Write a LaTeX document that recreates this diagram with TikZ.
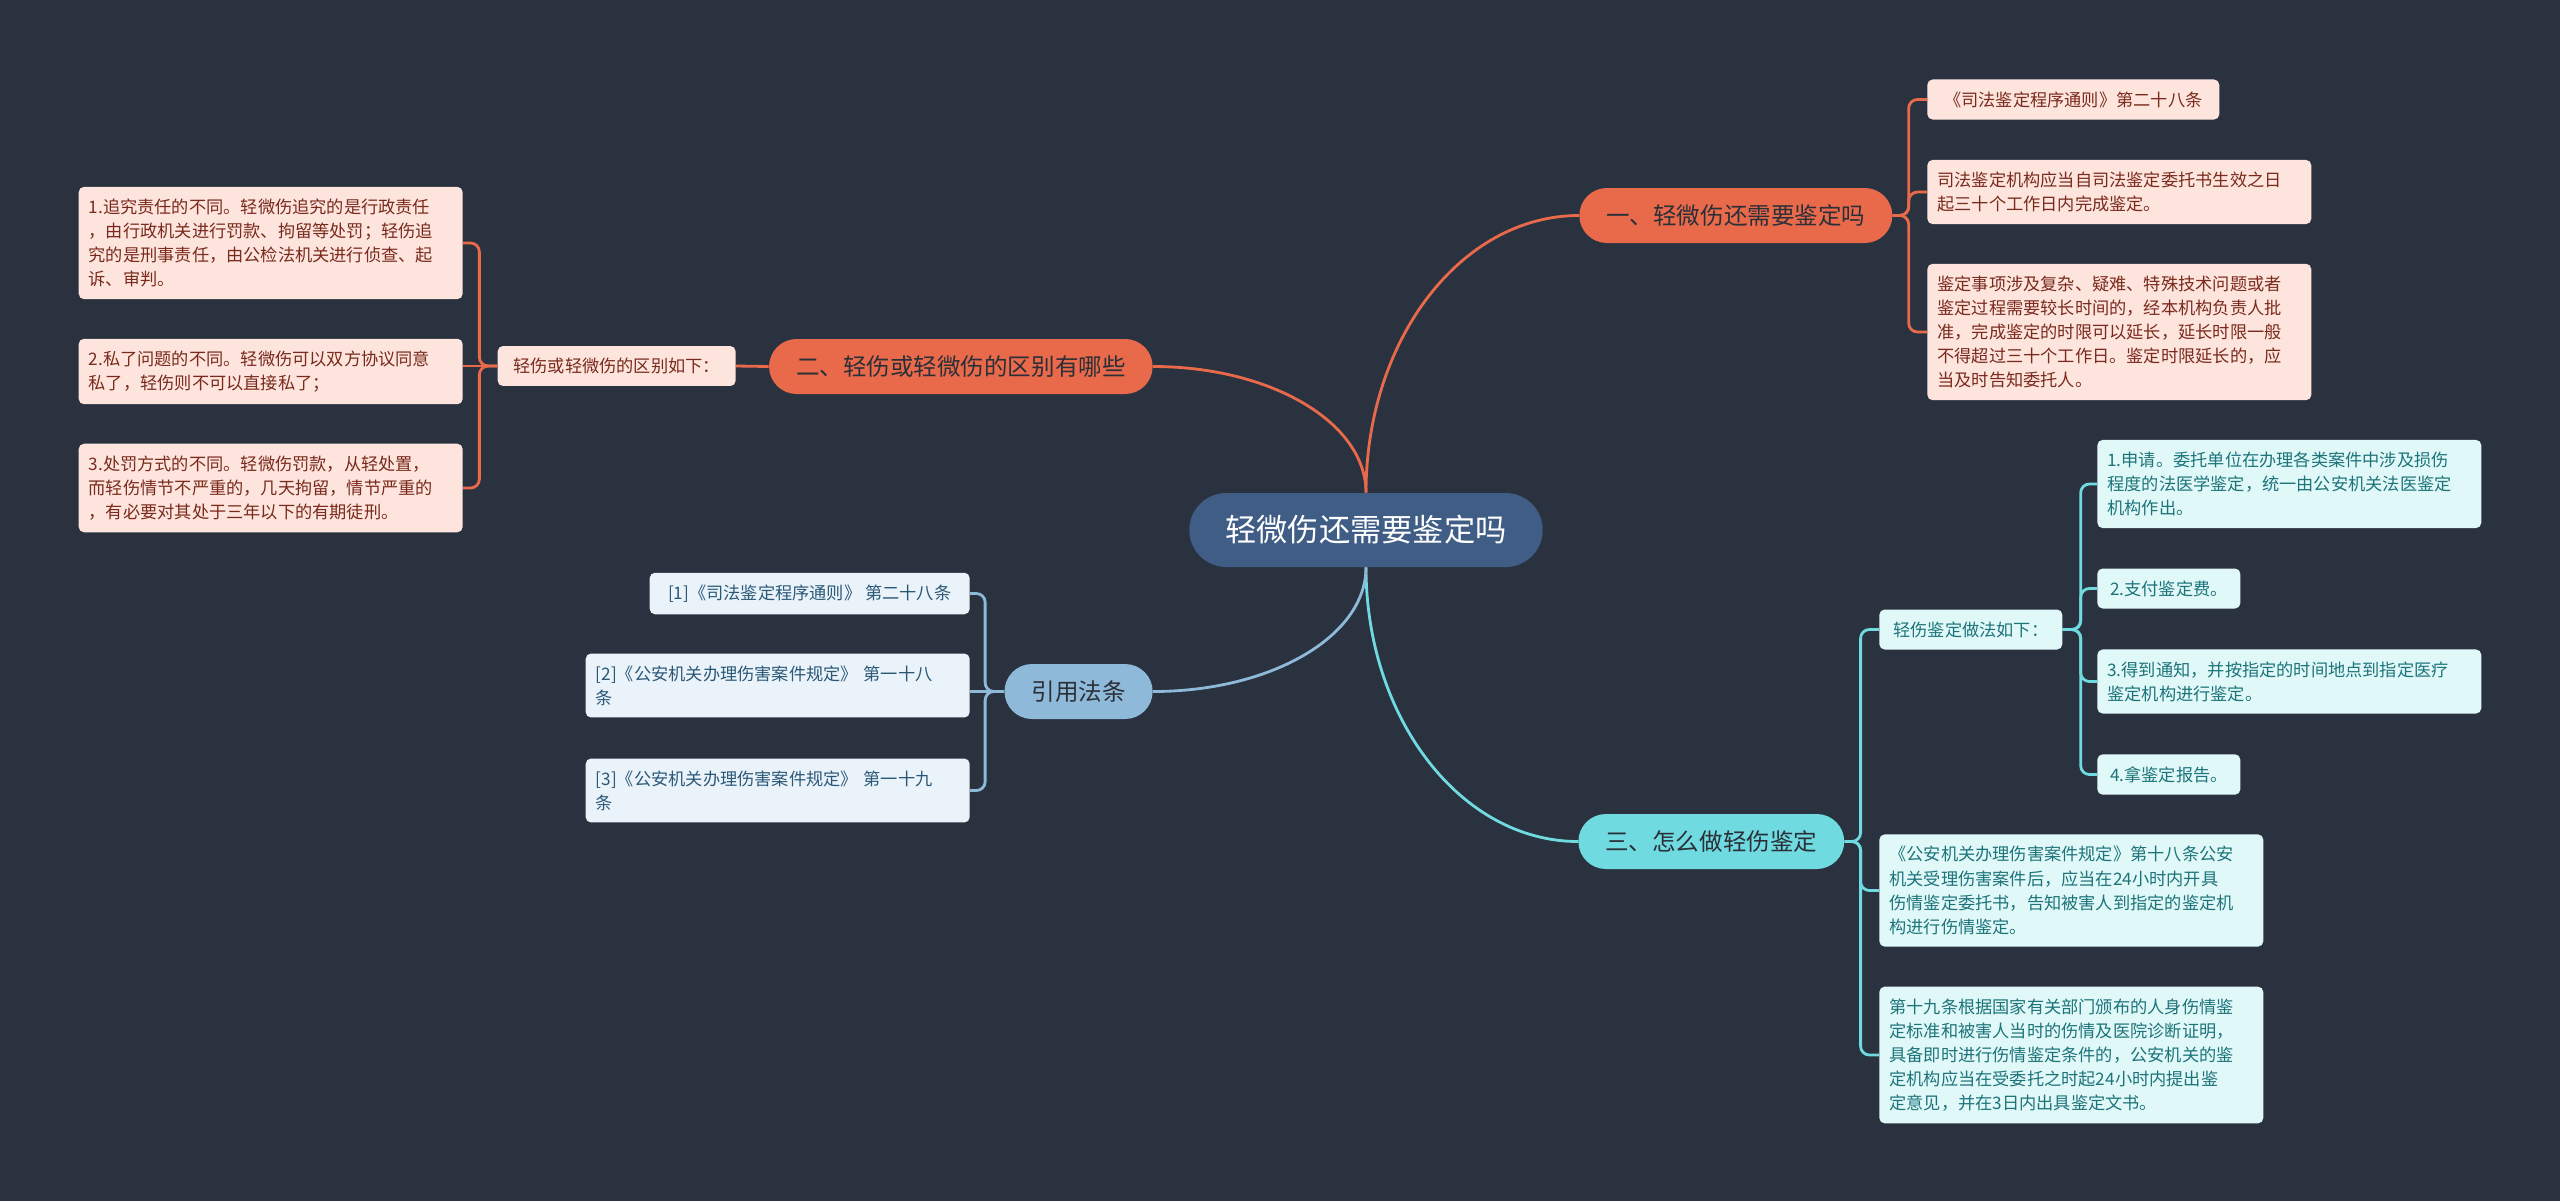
\documentclass[tikz,border=0pt]{standalone}
\usepackage{fontspec}
\setmainfont{Noto Sans CJK SC}
\definecolor{night}{HTML}{2A3240}
\definecolor{rootblue}{HTML}{3F5D85}
\definecolor{coral}{HTML}{E96A4B}
\definecolor{coralpale}{HTML}{FDE5DE}
\definecolor{coralink}{HTML}{7A2A1C}
\definecolor{aqua}{HTML}{6FDAE0}
\definecolor{aquapale}{HTML}{E1F8F9}
\definecolor{aquaink}{HTML}{1C7479}
\definecolor{steel}{HTML}{8FB9D8}
\definecolor{steelpale}{HTML}{EAF3F9}
\definecolor{steelink}{HTML}{2C5878}
\definecolor{darkink}{HTML}{2B2F38}

\begin{document}
\begin{tikzpicture}[x=0.02cm,y=-0.02cm,
    font=\fontsize{9.8}{13.7}\selectfont,
    topic/.style={rounded corners=0.55cm,minimum height=1.1cm,inner xsep=0.54cm,inner ysep=0pt,
      font=\fontsize{13.4}{16}\selectfont,text=darkink},
    leaf/.style={rounded corners=3pt,inner xsep=0.2cm,inner ysep=0.24cm,align=left},
    wide/.style={leaf,text width=7.28cm},
    redleaf/.style={fill=coralpale,text=coralink},
    aqualeaf/.style={fill=aquapale,text=aquaink},
    steelleaf/.style={fill=steelpale,text=steelink},
    link/.style={line width=1.6pt},
    elbow/.style={line width=1.6pt,rounded corners=5pt}
  ]
  \fill[night] (0,0) rectangle (2560,1201);

  \node[fill=rootblue,text=white,rounded corners=0.74cm,minimum height=1.48cm,inner xsep=0.72cm,
    inner ysep=0pt,font=\fontsize{17.8}{20}\selectfont] (root) at (1366,530) {轻微伤还需要鉴定吗};

  \node[topic,fill=coral,anchor=west] (dan) at (1579,215.5) {一、轻微伤还需要鉴定吗};
  \node[topic,fill=coral,anchor=east] (qubie) at (1153,366.5) {二、轻伤或轻微伤的区别有哪些};
  \node[topic,fill=aqua,anchor=west] (zenme) at (1578,841.5) {三、怎么做轻伤鉴定};
  \node[topic,fill=steel,anchor=east] (fatiao) at (1153,691.5) {引用法条};

  % 一
  \node[leaf,redleaf,anchor=west,minimum width=5.84cm] (tongze) at (1927,99.5) {《司法鉴定程序通则》第二十八条};
  \node[wide,redleaf,anchor=west] (sanshi) at (1927,192) {司法鉴定机构应当自司法鉴定委托书生效之日\\起三十个工作日内完成鉴定。};
  \node[wide,redleaf,anchor=west] (yanchang) at (1927,332) {鉴定事项涉及复杂、疑难、特殊技术问题或者\\鉴定过程需要较长时间的，经本机构负责人批\\准，完成鉴定的时限可以延长，延长时限一般\\不得超过三十个工作日。鉴定时限延长的，应\\当及时告知委托人。};

  % 二
  \node[leaf,redleaf,anchor=east,minimum width=4.76cm] (ruxia) at (736,366) {轻伤或轻微伤的区别如下：};
  \node[wide,redleaf,anchor=east] (zeren) at (463,243) {1.追究责任的不同。轻微伤追究的是行政责任\\，由行政机关进行罚款、拘留等处罚；轻伤追\\究的是刑事责任，由公检法机关进行侦查、起\\诉、审判。};
  \node[wide,redleaf,anchor=east] (siliao) at (463,371.5) {2.私了问题的不同。轻微伤可以双方协议同意\\私了，轻伤则不可以直接私了；};
  \node[wide,redleaf,anchor=east] (chufa) at (463,488) {3.处罚方式的不同。轻微伤罚款，从轻处置，\\而轻伤情节不严重的，几天拘留，情节严重的\\，有必要对其处于三年以下的有期徒刑。};

  % 引用法条
  \node[leaf,steelleaf,anchor=east,minimum width=6.4cm] (yin1) at (970,593.5) {[1]《司法鉴定程序通则》 第二十八条};
  \node[wide,steelleaf,anchor=east] (yin2) at (970,685.5) {[2]《公安机关办理伤害案件规定》 第一十八\\条};
  \node[wide,steelleaf,anchor=east] (yin3) at (970,790.5) {[3]《公安机关办理伤害案件规定》 第一十九\\条};

  % 三
  \node[leaf,aqualeaf,anchor=west,minimum width=3.66cm] (zuofa) at (1879,629.5) {轻伤鉴定做法如下：};
  \node[wide,aqualeaf,anchor=west] (shenqing) at (2097,484) {1.申请。委托单位在办理各类案件中涉及损伤\\程度的法医学鉴定，统一由公安机关法医鉴定\\机构作出。};
  \node[leaf,aqualeaf,anchor=west,minimum width=2.86cm] (zhifu) at (2097,588.5) {2.支付鉴定费。};
  \node[wide,aqualeaf,anchor=west] (tongzhi) at (2097,681.5) {3.得到通知，并按指定的时间地点到指定医疗\\鉴定机构进行鉴定。};
  \node[leaf,aqualeaf,anchor=west,minimum width=2.86cm] (baogao) at (2097,774.5) {4.拿鉴定报告。};
  \node[wide,aqualeaf,anchor=west] (shiba) at (1879,890.5) {《公安机关办理伤害案件规定》第十八条公安\\机关受理伤害案件后，应当在24小时内开具\\伤情鉴定委托书，告知被害人到指定的鉴定机\\构进行伤情鉴定。};
  \node[wide,aqualeaf,anchor=west] (shijiu) at (1879,1055) {第十九条根据国家有关部门颁布的人身伤情鉴\\定标准和被害人当时的伤情及医院诊断证明，\\具备即时进行伤情鉴定条件的，公安机关的鉴\\定机构应当在受委托之时起24小时内提出鉴\\定意见，并在3日内出具鉴定文书。};

  \draw[link,coral] (root.north) .. controls +(0,-153) and +(-118,0) .. (dan.west);
  \draw[link,coral] (root.north) .. controls +(0,-70) and +(118,0) .. (qubie.east);
  \draw[link,aqua] (root.south) .. controls +(0,151) and +(-117,0) .. (zenme.west);
  \draw[link,steel] (root.south) .. controls +(0,69) and +(118,0) .. (fatiao.east);

  \draw[elbow,coral] (dan.east) -- ++(16,0) |- (tongze.west);
  \draw[elbow,coral] (dan.east) -- ++(16,0) |- (sanshi.west);
  \draw[elbow,coral] (dan.east) -- ++(16,0) |- (yanchang.west);

  \draw[link,coral] (qubie.west) -- (ruxia.east);
  \draw[elbow,coral] (ruxia.west) -- ++(-18,0) |- (zeren.east);
  \draw[link,coral] (ruxia.west) -- (ruxia.west -| siliao.east);
  \draw[elbow,coral] (ruxia.west) -- ++(-18,0) |- (chufa.east);

  \draw[elbow,steel] (fatiao.west) -- ++(-19,0) |- (yin1.east);
  \draw[link,steel] (fatiao.west) -- (fatiao.west -| yin2.east);
  \draw[elbow,steel] (fatiao.west) -- ++(-19,0) |- (yin3.east);

  \draw[elbow,aqua] (zenme.east) -- ++(16,0) |- (zuofa.west);
  \draw[elbow,aqua] (zenme.east) -- ++(16,0) |- (shiba.west);
  \draw[elbow,aqua] (zenme.east) -- ++(16,0) |- (shijiu.west);
  \draw[elbow,aqua] (zuofa.east) -- ++(18,0) |- (shenqing.west);
  \draw[elbow,aqua] (zuofa.east) -- ++(18,0) |- (zhifu.west);
  \draw[elbow,aqua] (zuofa.east) -- ++(18,0) |- (tongzhi.west);
  \draw[elbow,aqua] (zuofa.east) -- ++(18,0) |- (baogao.west);
\end{tikzpicture}
\end{document}
